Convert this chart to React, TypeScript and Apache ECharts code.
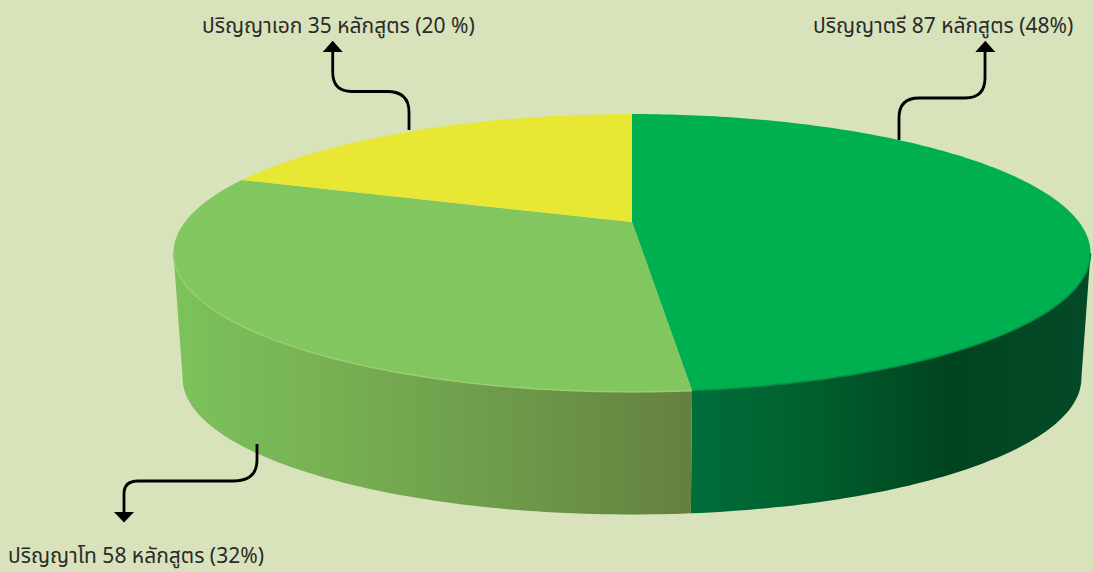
import React, { useEffect, useRef } from "react";
import * as echarts from "echarts";

// ---------- data ----------
const categories = ["ปริญญาตรี", "ปริญญาโท", "ปริญญาเอก"];
const courseCounts = [87, 58, 35];
const labelPercents = ["48%", "32%", "20 %"];

// ---------- styling ----------
const topColors = ["#00B050", "#82C65F", "#E7E734"];
const rimColors = ["#0A8A45", "#9ECD70", "#D6D83A"];
const wallStops = [
  [
    [0, "#006D3A"],
    [0.25, "#00632F"],
    [0.65, "#00431F"],
    [1, "#054A28"],
  ],
  [
    [0, "#7CC25B"],
    [0.3, "#77B053"],
    [0.7, "#6C9649"],
    [1, "#65803E"],
  ],
  [
    [0, "#C8CA30"],
    [1, "#C8CA30"],
  ],
];
const wallSpan = [
  [692, 1090],
  [178, 692],
  [240, 632],
];
const BACKGROUND = "#D8E3BC";

// perspective projection of the pie's unit circle on the page
const CX = 632;
const APEX_Y = 222;
const DX = 447;
const AY = 132;
const C = -0.223;
const WALL_DROP = 126;
const WALL_SCALE = 0.98;
// the wall is visible between the two silhouette angles of the projected rim
const FRONT_START = Math.acos(C);
const FRONT_END = Math.PI * 2 - FRONT_START;

function project(angle: number, drop: number, scale: number): number[] {
  const u = Math.sin(angle);
  const v = -Math.cos(angle);
  const w = 1 + C * v;
  return [CX + (scale * DX * u) / w, APEX_Y + drop + (scale * AY * v) / w];
}

const total = courseCounts.reduce((a, b) => a + b, 0);

function sliceAngles(index: number): number[] {
  const before = courseCounts.slice(0, index).reduce((a, b) => a + b, 0);
  return [(before / total) * Math.PI * 2, ((before + courseCounts[index]) / total) * Math.PI * 2];
}

function rim(a0: number, a1: number, drop: number, scale: number): number[][] {
  const n = Math.max(8, Math.ceil(((a1 - a0) / (Math.PI * 2)) * 360));
  const pts: number[][] = [];
  for (let i = 0; i <= n; i++) pts.push(project(a0 + ((a1 - a0) * i) / n, drop, scale));
  return pts;
}

function renderWall(params: any) {
  const i = params.dataIndex;
  const [s0, s1] = sliceAngles(i);
  const a0 = Math.max(s0, FRONT_START);
  const a1 = Math.min(s1, FRONT_END);
  if (a1 <= a0) return null;
  const top = rim(a0, a1, 0, 1);
  const bottom = rim(a0, a1, WALL_DROP, WALL_SCALE).reverse();
  const fill = {
    type: "linear",
    x: wallSpan[i][0],
    y: 0,
    x2: wallSpan[i][1],
    y2: 0,
    global: true,
    colorStops: wallStops[i].map((s) => ({ offset: s[0], color: s[1] })),
  };
  return {
    type: "polygon",
    silent: true,
    shape: { points: top.concat(bottom) },
    style: { fill },
  };
}

function renderTop(params: any) {
  const i = params.dataIndex;
  const [a0, a1] = sliceAngles(i);
  const arc = rim(a0, a1, 0, 1);
  const f0 = Math.max(a0, FRONT_START);
  const f1 = Math.min(a1, FRONT_END);
  const children: any[] = [
    {
      type: "polygon",
      shape: { points: [[CX, APEX_Y]].concat(arc) },
      style: { fill: topColors[i] },
    },
  ];
  if (f1 > f0) {
    children.push({
      type: "polyline",
      shape: { points: rim(f0, f1, 0, 1) },
      style: { fill: "none", stroke: rimColors[i], lineWidth: 1.5 },
    });
  }
  return { type: "group", silent: true, children };
}

const leaders = [
  {
    name: "leaderBachelor",
    d: "M899 140 L899 118 Q899 98 919 98 L965 98 Q985 98 985 78 L985 48",
    head: [[975.3, 52], [995.3, 52], [985.3, 40.7]],
  },
  {
    name: "leaderMaster",
    d: "M257 444 L257 460 Q257 481 233 481 L138 481 Q124 481 124 494 L124 514",
    head: [[114, 512], [134, 512], [124, 522.5]],
  },
  {
    name: "leaderDoctor",
    d: "M409 130 L409 112 Q409 91.5 387 91.5 L352 91.5 Q332.7 91.5 332.7 72 L332.7 48",
    head: [[322.7, 52], [342.7, 52], [332.7, 40.7]],
  },
];
leaders.forEach((l) => echarts.graphic.registerShape(l.name, echarts.graphic.extendPath(l.d, {}) as any));

const labelAnchors = [
  { x: 813, y: 25 },
  { x: 8, y: 555 },
  { x: 202, y: 25 },
];
const labelTexts = categories.map((c, i) =>
  `${c} ${courseCounts[i]} หลักสูตร (${labelPercents[i]})`,
);

export default function App() {
  const ref = useRef<HTMLDivElement>(null);
  useEffect(() => {
    document.body.style.margin = "0";
    const chart = echarts.init(ref.current!, null, { renderer: "svg" });
    chart.setOption({
      animation: false,
      backgroundColor: BACKGROUND,
      series: [
        { type: "custom", coordinateSystem: "none", silent: true, renderItem: renderWall, data: courseCounts, z: 1 },
        { type: "custom", coordinateSystem: "none", silent: true, renderItem: renderTop, data: courseCounts, z: 2 },
      ],
      graphic: [
        ...leaders.flatMap((l) => [
          {
            type: l.name,
            x: 0,
            y: 0,
            z: 10,
            silent: true,
            style: { fill: "none", stroke: "#000000", lineWidth: 2.8 },
          },
          {
            type: "polygon",
            z: 10,
            silent: true,
            shape: { points: l.head },
            style: { fill: "#000000" },
          },
        ]),
        ...labelTexts.map((text, i) => ({
          type: "text",
          x: labelAnchors[i].x,
          y: labelAnchors[i].y,
          z: 11,
          silent: true,
          style: {
            text,
            fill: "#2a2a2a",
            font: '21px "Noto Sans", "Noto Sans Thai", sans-serif',
            textAlign: "left",
            textVerticalAlign: "middle",
          },
        })),
      ],
    } as any);
    return () => chart.dispose();
  }, []);
  return <div ref={ref} style={{ width: 1093, height: 572, position: "absolute", left: 0, top: 0 }} />;
}
